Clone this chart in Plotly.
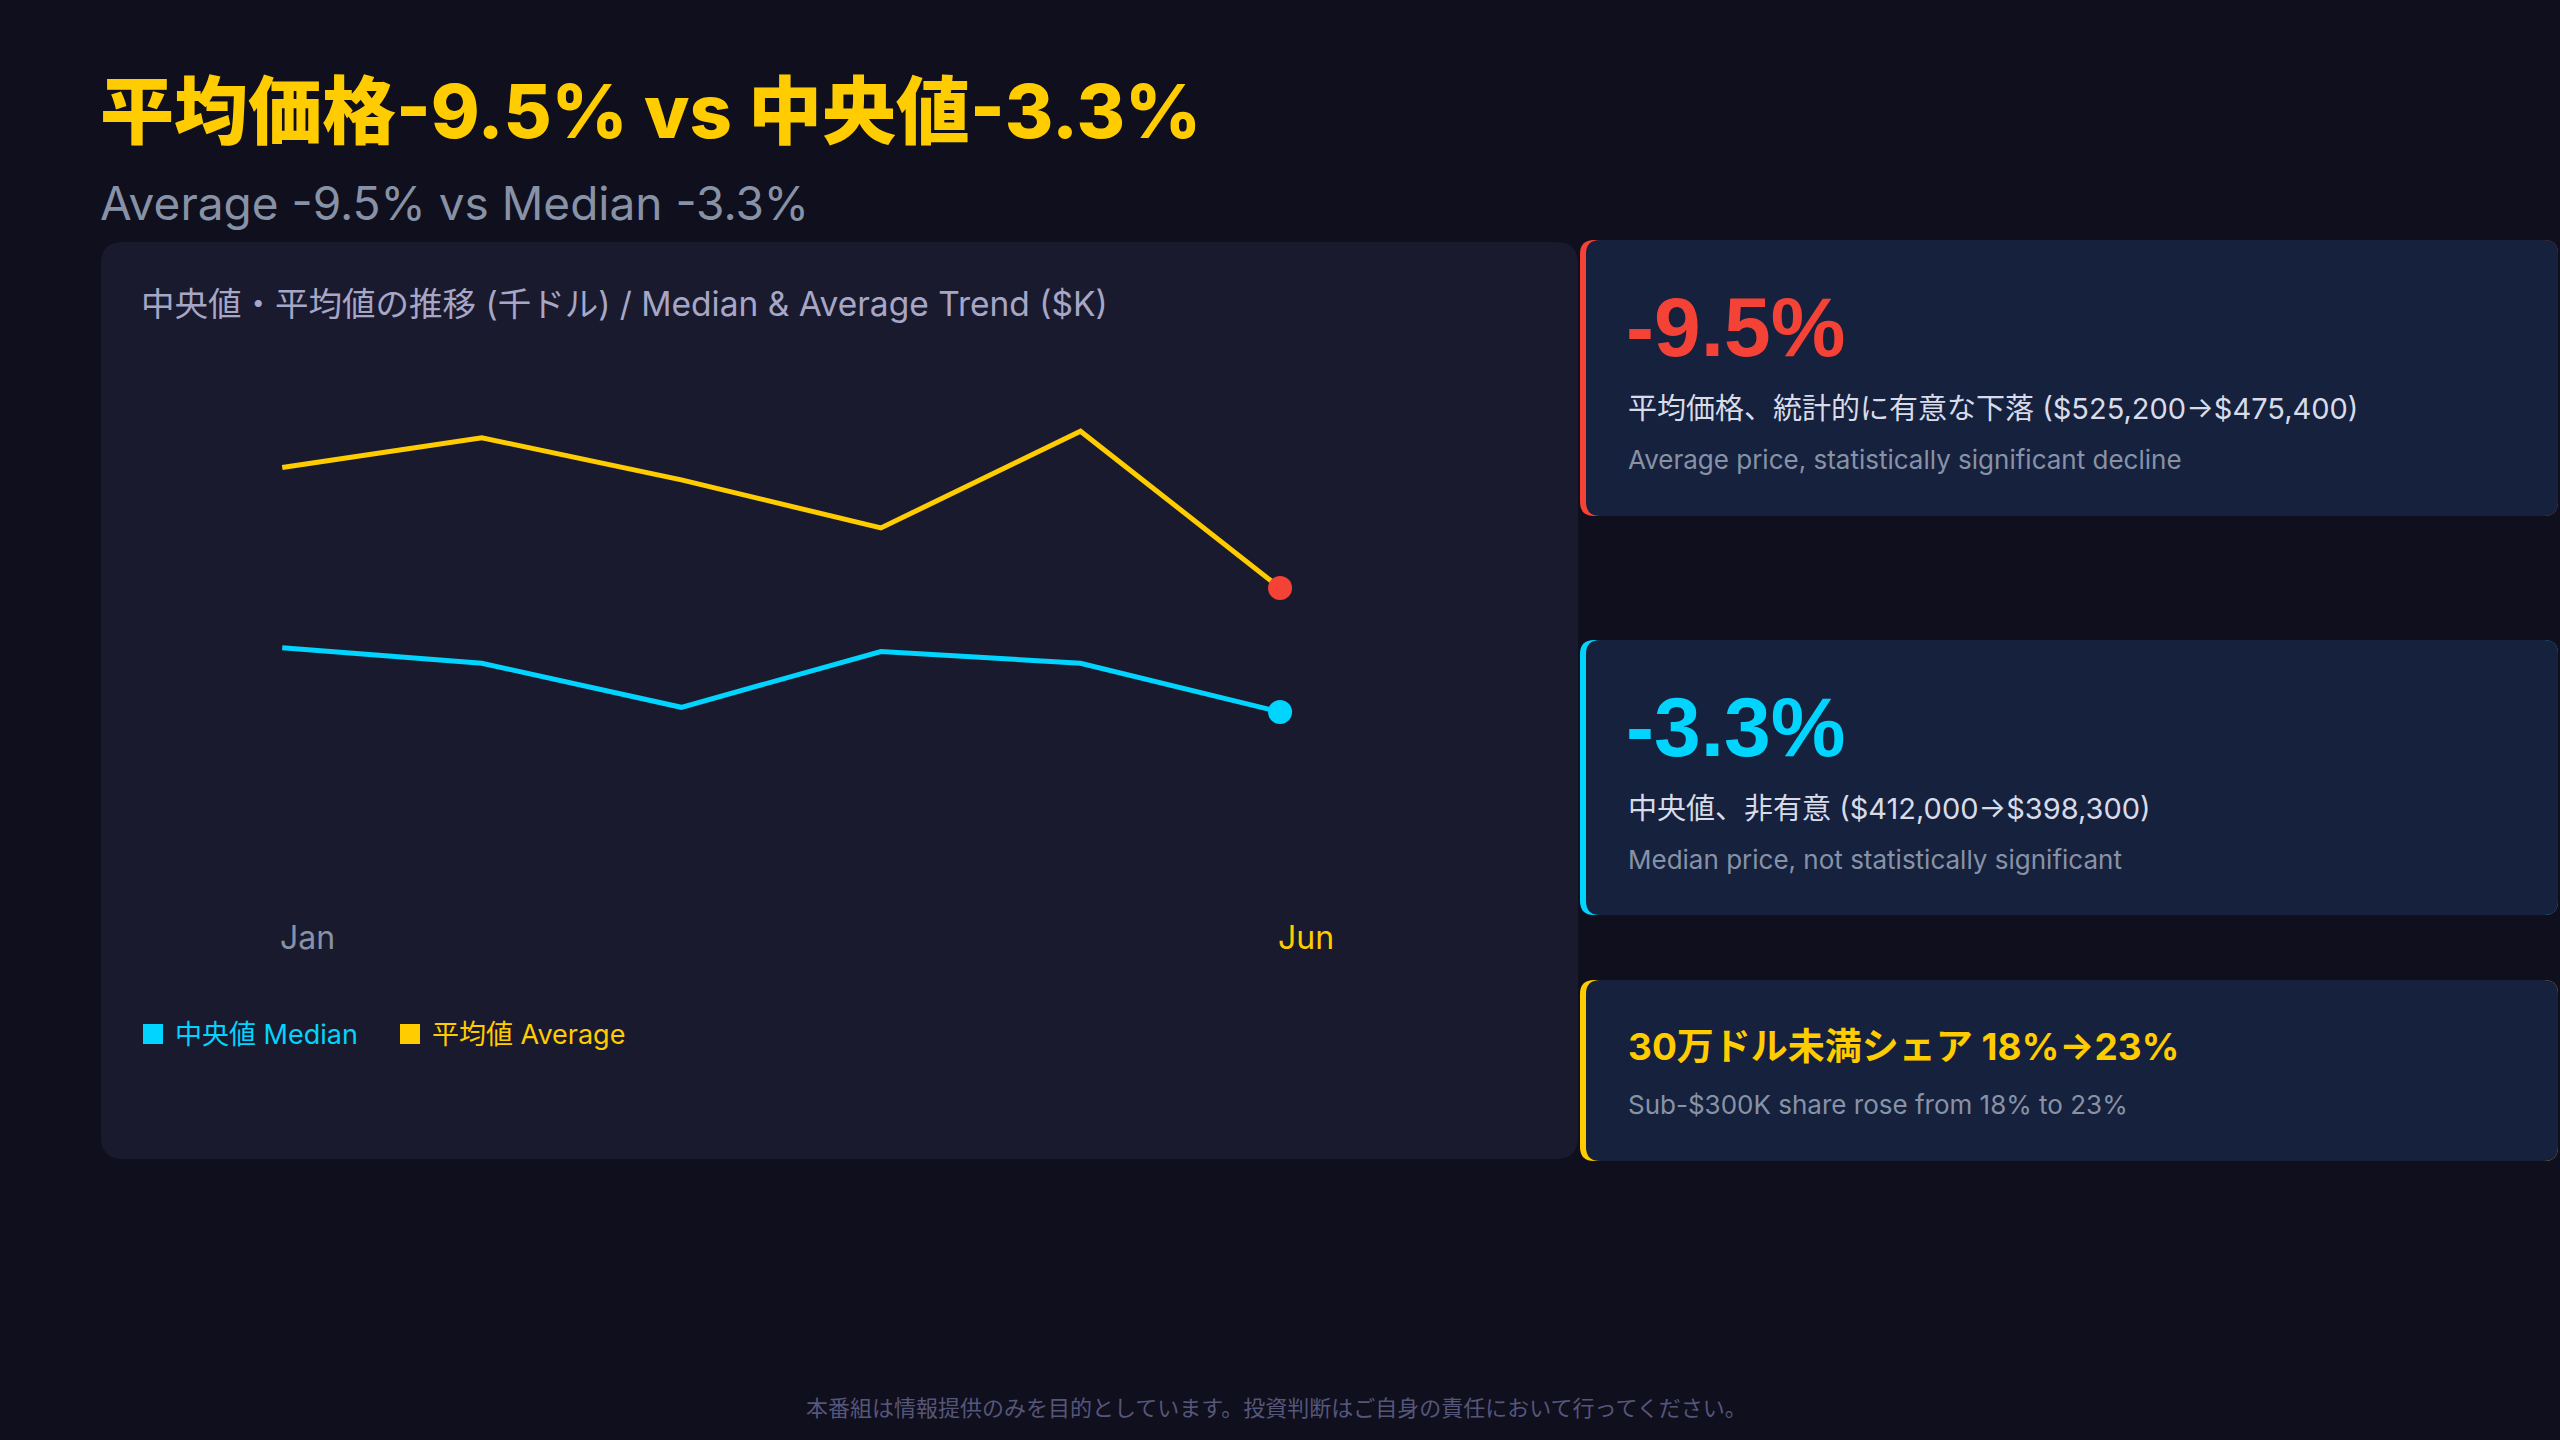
import plotly.graph_objects as go

# ---------------- data ----------------
months = ["Jan", "Feb", "Mar", "Apr", "May", "Jun"]
median_k = [412.0, 408.7, 399.3, 411.2, 408.7, 398.3]
average_k = [525.2, 537.5, 520.1, 500.2, 540.2, 475.4]
tick_months = ["Jan", "Jun"]

title_text = "平均価格-9.5% vs 中央値-3.3%"
subtitle_text = "Average -9.5% vs Median -3.3%"
panel_title = "中央値・平均値の推移 (千ドル) / Median &amp; Average Trend ($K)"
legend_labels = ["中央値 Median", "平均値 Average"]
card_big = ["-9.5%", "-3.3%"]
card_main = ["平均価格、統計的に有意な下落 ($525,200→$475,400)",
             "中央値、非有意 ($412,000→$398,300)"]
card_sub = ["Average price, statistically significant decline",
            "Median price, not statistically significant"]
card3_title = "30万ドル未満シェア 18%→23%"
card3_sub = "Sub-$300K share rose from 18% to 23%"
footer_text = "本番組は情報提供のみを目的としています。投資判断はご自身の責任において行ってください。"

# ---------------- style ----------------
W, H = 2560, 1440
BG = "#0f0f1e"
PANEL = "#1a1a2e"
CARD = "#16213e"
YELLOW = "#ffcc00"
CYAN = "#00d4ff"
RED = "#f44336"
GRAY = "#8892a6"
LIGHT = "#d8dbe8"
FONT = "Inter, Noto Sans CJK JP"
CJK = "Noto Sans CJK JP"


def px(x):
    return x / W


def py(y):
    return 1 - y / H


def rrect_path(x0, y0, x1, y1, r):
    pts = [
        f"M {px(x0 + r)} {py(y0)}",
        f"L {px(x1 - r)} {py(y0)}",
        f"Q {px(x1)} {py(y0)} {px(x1)} {py(y0 + r)}",
        f"L {px(x1)} {py(y1 - r)}",
        f"Q {px(x1)} {py(y1)} {px(x1 - r)} {py(y1)}",
        f"L {px(x0 + r)} {py(y1)}",
        f"Q {px(x0)} {py(y1)} {px(x0)} {py(y1 - r)}",
        f"L {px(x0)} {py(y0 + r)}",
        f"Q {px(x0)} {py(y0)} {px(x0 + r)} {py(y0)}",
        "Z",
    ]
    return " ".join(pts)


shapes = []
annotations = []


def add_rrect(x0, y0, x1, y1, r, color):
    shapes.append(dict(type="path", path=rrect_path(x0, y0, x1, y1, r),
                       xref="paper", yref="paper", fillcolor=color,
                       line=dict(width=0), layer="below"))


def add_text(text, x, y, size, color, weight="normal", anchor="left", family=FONT):
    annotations.append(dict(text=text, x=px(x), y=py(y), xref="paper", yref="paper",
                            xanchor=anchor, yanchor="middle", showarrow=False,
                            font=dict(family=family, size=size, color=color, weight=weight)))


# panel
add_rrect(101, 242, 1578, 1159, 22, PANEL)

# cards
cards = [(240, 516, RED), (640, 915, CYAN), (980, 1161, YELLOW)]
for (y0, y1, col) in cards:
    add_rrect(1580, y0, 2558, y1, 14, col)
    add_rrect(1586, y0, 2558, y1, 14, CARD)

# titles
add_text(title_text, 98, 111, 74, YELLOW, weight=800)
add_text(subtitle_text, 98, 203, 46, GRAY)
add_text(panel_title, 139, 304, 33.5, "#a6a6c6")

# cards text
big_colors = [RED, CYAN]
big_y = [327, 727]
main_y = [408, 808]
sub_y = [460, 859]
for i in range(2):
    add_text(card_big[i], 1624, big_y[i], 84, big_colors[i], weight="bold",
             family="Liberation Sans, Arial")
    add_text(card_main[i], 1626, main_y[i], 29, LIGHT)
    add_text(card_sub[i], 1626, sub_y[i], 26, GRAY)
add_text(card3_title, 1626, 1046, 37, YELLOW, weight="bold")
add_text(card3_sub, 1626, 1104, 26, GRAY)

# footer
add_text(footer_text, 1276, 1406, 22, "#56567a", anchor="center", family=CJK)

# legend (custom squares)
legend_colors = [CYAN, YELLOW]
legend_sq_x = [143, 400]
for i in range(2):
    shapes.append(dict(type="rect", xref="paper", yref="paper",
                       x0=px(legend_sq_x[i]), x1=px(legend_sq_x[i] + 20),
                       y0=py(1044), y1=py(1024), fillcolor=legend_colors[i],
                       line=dict(width=0)))
    add_text(legend_labels[i], legend_sq_x[i] + 30, 1034, 27, legend_colors[i])

# month labels (left anchored at point positions)
tick_colors = {"Jan": GRAY, "Jun": YELLOW}
for m in tick_months:
    annotations.append(dict(text=m, x=m, y=py(937), xref="x", yref="paper",
                            xanchor="left", yanchor="middle", showarrow=False, xshift=-4,
                            font=dict(family=FONT, size=32, color=tick_colors[m])))

fig = go.Figure()
fig.add_trace(go.Scatter(x=months, y=average_k, mode="lines", yaxis="y",
                         line=dict(color=YELLOW, width=5), name=legend_labels[1],
                         showlegend=False))
fig.add_trace(go.Scatter(x=months, y=median_k, mode="lines", yaxis="y2",
                         line=dict(color=CYAN, width=5), name=legend_labels[0],
                         showlegend=False))
fig.add_trace(go.Scatter(x=[months[-1]], y=[average_k[-1]], mode="markers", yaxis="y",
                         marker=dict(color=RED, size=24), showlegend=False, cliponaxis=False))
fig.add_trace(go.Scatter(x=[months[-1]], y=[median_k[-1]], mode="markers", yaxis="y2",
                         marker=dict(color=CYAN, size=24), showlegend=False, cliponaxis=False))

fig.update_layout(
    width=W, height=H,
    margin=dict(l=0, r=0, t=0, b=0),
    paper_bgcolor=BG, plot_bgcolor="rgba(0,0,0,0)",
    xaxis=dict(domain=[px(200), px(1400)], range=[-0.412, 5.601], visible=False,
               type="category", categoryorder="array", categoryarray=months),
    yaxis=dict(domain=[py(900), py(250)], range=[346.31, 615.16], visible=False),
    yaxis2=dict(domain=[py(900), py(250)], range=[358.18, 496.89], visible=False,
                overlaying="y"),
    shapes=shapes,
    annotations=annotations,
    showlegend=False,
)

fig.write_html("out.html")
